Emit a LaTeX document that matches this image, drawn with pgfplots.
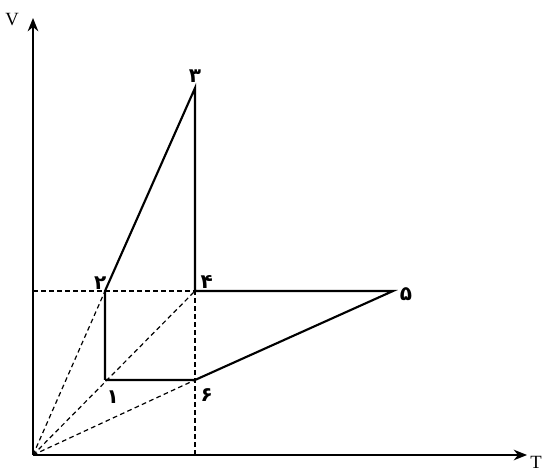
\documentclass[border=0pt]{standalone}
\usepackage{pgfplots}
\pgfplotsset{compat=1.18}
\usepackage{fontspec}
\setmainfont{Liberation Serif}
\newfontfamily\fafont[Script=Arabic]{DejaVu Sans}
\usetikzlibrary{arrows.meta}
\TeXXeTstate=1
\newcommand{\fa}[1]{{\fafont\bfseries\fontsize{15}{15}\selectfont\beginR #1\endR}}
\begin{document}
\begin{tikzpicture}[x=0.75pt,y=0.75pt]
\useasboundingbox (0,0) rectangle (545,474);
\begin{axis}[
  at={(33,19)}, anchor=south west,
  scale only axis, width=370.5pt, height=327.75pt,
  xmin=0, xmax=494, ymin=0, ymax=437,
  axis lines=left,
  axis line style={line width=1.4pt, -{Stealth[length=10pt,width=8pt]}},
  xtick=\empty, ytick=\empty,
  clip=false,
]
% guide lines (isochores through the origin and projections)
\addplot[black, line width=0.9pt, dash pattern=on 3.5pt off 2.5pt] coordinates {(0,0) (72,164)};
\addplot[black, line width=0.9pt, dash pattern=on 3.5pt off 2.5pt] coordinates {(0,0) (162,164)};
\addplot[black, line width=0.9pt, dash pattern=on 3.5pt off 2.5pt] coordinates {(0,0) (162,75)};
\addplot[black, line width=0.9pt, dash pattern=on 3.5pt off 2.5pt] coordinates {(0,164) (162,164)};
\addplot[black, line width=0.9pt, dash pattern=on 3.5pt off 2.5pt] coordinates {(162,0) (162,164)};
% the cycle 1-2-3-4-5-6-1
\addplot[black, line width=1.6pt, line join=miter] coordinates {
  (72,75) (72,164) (162,367) (162,164) (360,164) (162,75) (72,75)};
% state labels
\node[anchor=south, inner sep=2pt] at (axis cs:162,370) {\fa{۳}};
\node[anchor=south east, inner sep=1pt] at (axis cs:75,164) {\fa{۲}};
\node[anchor=south west, inner sep=1pt] at (axis cs:166,165) {\fa{۴}};
\node[anchor=west, inner sep=2pt] at (axis cs:364,161) {\fa{۵}};
\node[anchor=north west, inner sep=1pt] at (axis cs:72,66) {\fa{۱}};
\node[anchor=north west, inner sep=1pt] at (axis cs:166,68) {\fa{۶}};
\end{axis}
\node[font=\fontsize{14}{14}\selectfont] at (12,454) {V};
\node[font=\fontsize{14}{14}\selectfont] at (536,12) {T};
\end{tikzpicture}
\end{document}
